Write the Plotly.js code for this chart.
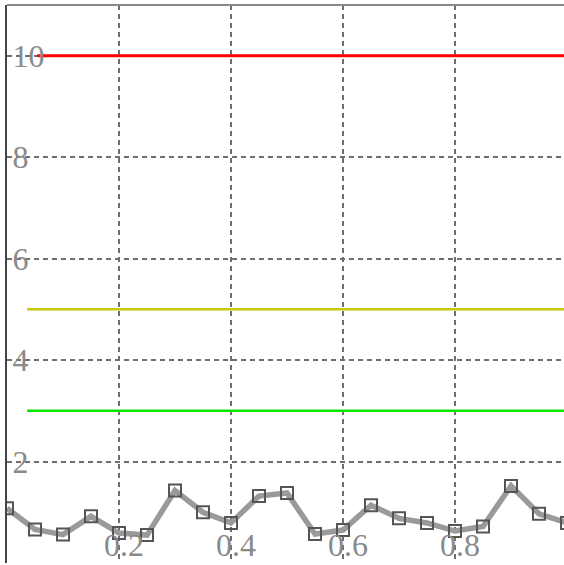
<!DOCTYPE html>
<html>
<head>
<meta charset="utf-8">
<script src="https://cdn.plot.ly/plotly-3.0.1.min.js"></script>
<style>html,body{margin:0;padding:0;overflow:hidden;background:#fff;}#chart{width:564px;height:565px;}</style>
</head>
<body>
<div id="chart"></div>
<script>
const xValues = [0, 0.05, 0.1, 0.15, 0.2, 0.25, 0.3, 0.35, 0.4, 0.45, 0.5, 0.55, 0.6, 0.65, 0.7, 0.75, 0.8, 0.85, 0.9, 0.95, 1];
const yValues = [1.08, 0.66, 0.56, 0.92, 0.59, 0.55, 1.43, 1.0, 0.79, 1.32, 1.38, 0.57, 0.65, 1.14, 0.88, 0.79, 0.63, 0.72, 1.52, 0.97, 0.79];
const redLevel = 10, yellowLevel = 5, greenLevel = 3;
const redStart = 0.054, otherStart = 0.036, lineEnd = 1;
const xTicks = [0.2, 0.4, 0.6, 0.8];
const xTickText = ['0.2', '0.4', '0.6', '0.8'];
const yTicks = [0, 2, 4, 6, 8, 10];

const traces = [
  {x: [redStart, lineEnd], y: [redLevel, redLevel], mode: 'lines', line: {color: '#ff0000', width: 3}, hoverinfo: 'skip'},
  {x: [otherStart, lineEnd], y: [yellowLevel, yellowLevel], mode: 'lines', line: {color: '#c8c800', width: 2.5}, hoverinfo: 'skip'},
  {x: [otherStart, lineEnd], y: [greenLevel, greenLevel], mode: 'lines', line: {color: '#00e600', width: 2.5}, hoverinfo: 'skip'},
  {x: xValues, y: yValues, mode: 'lines+markers',
   line: {color: '#9a9a9c', width: 5.5},
   marker: {symbol: 'square-open', size: 12, color: '#555555', line: {width: 2, color: '#555555'}}}
];

const tickFont = {family: 'Liberation Serif, DejaVu Serif, serif', size: 32, color: '#8a8a8a'};

const layout = {
  width: 564, height: 565,
  margin: {l: 7, r: 0, t: 5, b: 2},
  showlegend: false,
  paper_bgcolor: '#fff', plot_bgcolor: '#fff',
  xaxis: {
    range: [0, 557/560], tickvals: xTicks, ticktext: xTickText,
    ticklabelposition: 'inside', ticks: '', tickfont: tickFont, ticklabelstandoff: -2, ticklabelshift: 5,
    showgrid: true, gridcolor: '#6e6e6e', gridwidth: 2, griddash: '5px,4px',
    zeroline: false, showline: false
  },
  yaxis: {
    range: [0, 11], tickvals: yTicks,
    ticklabelposition: 'inside', ticks: '', tickfont: tickFont, ticklabelstandoff: 9,
    showgrid: true, gridcolor: '#6e6e6e', gridwidth: 2, griddash: '5px,4px',
    zeroline: false, showline: true, linecolor: '#444', linewidth: 2
  },
  shapes: [
    {type: 'line', xref: 'paper', yref: 'paper', x0: 0, x1: 1, y0: 1, y1: 1, line: {color: '#888', width: 2}}
  ]
};

Plotly.newPlot('chart', traces, layout, {displayModeBar: false, staticPlot: true});
</script>
</body>
</html>
